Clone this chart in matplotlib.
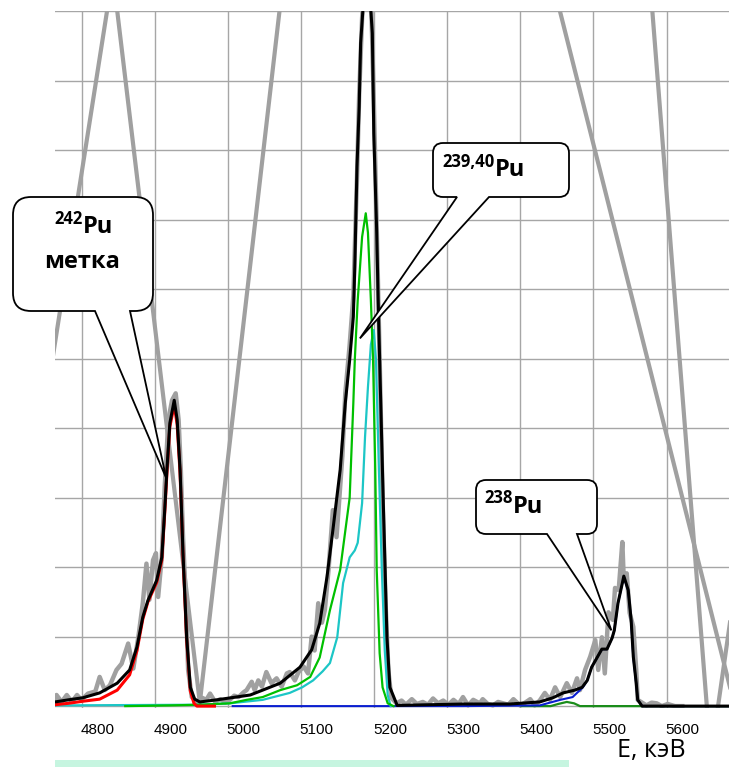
import numpy as np
import matplotlib.pyplot as plt
from matplotlib.path import Path
from matplotlib.patches import PathPatch, Rectangle
from matplotlib.transforms import IdentityTransform

W, H = 729, 767

# measured spectrum (grey), energies in keV, counts in grid units
grey_e = [4742, 4744, 4751, 4758, 4765, 4772, 4778, 4787, 4797, 4803, 4810, 4817, 4826, 4833,
          4842, 4849, 4856, 4862, 4867, 4871, 4876, 4880, 4883, 4888, 4892, 4897, 4902, 4907,
          4911, 4914, 4917, 4921, 4924, 4929, 4936, 4943, 4949, 4954, 4961, 4968, 4975, 4981,
          4987, 4993, 5000, 5004, 5011, 5015, 5020, 5025, 5031, 5038, 5045, 5052, 5059, 5063,
          5070, 5075, 5082, 5088, 5093, 5097, 5102, 5107, 5111, 5116, 5122, 5127, 5130, 5135,
          5139, 5145, 5150, 5155, 5158, 5162, 5166, 5170, 5174, 5178, 5182, 5186, 5190, 5194,
          5198, 5202, 5209, 5216, 5222, 5230, 5237, 5245, 5252, 5259, 5266, 5273, 5280, 5287,
          5294, 5300, 5307, 5314, 5323, 5327, 5334, 5341, 5348, 5355, 5362, 5369, 5378, 5385,
          5392, 5398, 5405, 5412, 5419, 5426, 5433, 5442, 5449, 5456, 5460, 5467, 5474, 5481,
          5485, 5490, 5494, 5499, 5505, 5508, 5513, 5518, 5520, 5524, 5528, 5533, 5537, 5539,
          5551, 5558, 5565, 5572, 5580, 5590, 5600]
grey_v = [0.10, 0.16, 0.06, 0.16, 0.06, 0.16, 0.09, 0.18, 0.21, 0.42, 0.23, 0.30, 0.52, 0.61,
          0.90, 0.54, 1.00, 1.48, 2.05, 1.53, 2.10, 2.20, 1.57, 2.15, 3.16, 4.12, 4.40, 4.50,
          4.12, 3.40, 2.44, 1.48, 0.52, 0.13, 0.06, 0.12, 0.09, 0.18, 0.06, 0.10, 0.05, 0.09,
          0.15, 0.13, 0.20, 0.23, 0.35, 0.23, 0.37, 0.28, 0.49, 0.33, 0.40, 0.28, 0.47, 0.49,
          0.37, 0.49, 0.57, 0.47, 1.00, 0.80, 1.48, 1.20, 1.38, 1.95, 2.82, 2.43, 2.86, 3.60,
          4.50, 5.20, 5.90, 7.60, 8.80, 9.90, 10.6, 10.7, 10.3, 8.70, 6.90, 5.00, 3.00, 1.50,
          0.50, 0.12, 0.04, 0.08, 0.02, 0.10, 0.03, 0.06, 0.02, 0.11, 0.04, 0.08, 0.02, 0.09,
          0.03, 0.13, 0.01, 0.09, 0.04, 0.10, 0.03, 0.01, 0.06, 0.04, 0.02, 0.10, 0.01, 0.05,
          0.10, 0.01, 0.08, 0.19, 0.09, 0.27, 0.13, 0.33, 0.19, 0.40, 0.23, 0.52, 0.71, 0.95,
          0.52, 0.99, 0.47, 1.35, 1.24, 1.70, 1.67, 2.36, 1.81, 1.91, 1.34, 1.14, 0.52, 0.09,
          0.01, 0.05, 0.04, 0.00, 0.03, 0.00, 0.00]

# coarse grey trace (runs far off scale)
coarse1_e = [4664, 4821, 4940, 5169.5, 5700]
coarse1_v = [0.0, 10.53, 0.05, 21.0, -1.18]
coarse2_e = [5483, 5639, 5706]
coarse2_v = [20.2, -0.73, 4.2]

# 242Pu tag fit
red_e = [4742, 4760, 4780, 4803, 4827, 4844, 4854, 4862, 4869, 4881, 4888, 4892, 4895, 4899,
         4905, 4909, 4913, 4917, 4922, 4927, 4932, 4936, 4960]
red_v = [0.02, 0.04, 0.07, 0.10, 0.23, 0.45, 0.80, 1.25, 1.50, 1.78, 2.10, 2.78, 3.35, 4.02,
         4.33, 4.05, 3.35, 2.15, 0.95, 0.22, 0.04, 0.0, 0.0]

# 239Pu fit
green_e = [4838, 4900, 4940, 4981, 5004, 5026, 5050, 5073, 5091, 5104, 5118, 5132, 5141, 5145,
           5150, 5152, 5156, 5162, 5167, 5170, 5174, 5177, 5180, 5182, 5186, 5190, 5197, 5205]
green_v = [0.0, 0.01, 0.02, 0.04, 0.09, 0.13, 0.23, 0.30, 0.42, 0.70, 1.38, 1.96, 2.68, 3.00,
           4.36, 4.98, 5.84, 6.75, 7.09, 6.81, 5.84, 4.98, 3.40, 1.96, 0.76, 0.27, 0.04, 0.0]

# 240Pu fit
cyan_e = [4742, 4940, 4981, 5026, 5063, 5080, 5095, 5108, 5118, 5128, 5136, 5145, 5152, 5156,
          5162, 5166, 5170, 5174, 5178, 5181, 5185, 5189, 5193, 5197, 5201]
cyan_v = [0.01, 0.02, 0.04, 0.09, 0.19, 0.27, 0.37, 0.50, 0.62, 0.99, 1.77, 2.14, 2.24, 2.35,
          2.92, 3.87, 4.59, 5.20, 5.41, 4.98, 3.40, 1.96, 0.80, 0.16, 0.0]

# 238Pu fit
blue_e = [4985, 5300, 5405, 5433, 5450, 5464, 5470, 5476, 5483, 5490, 5497, 5504, 5507, 5512,
          5518, 5520, 5526, 5530, 5533, 5537, 5539, 5545, 5664]
blue_v = [0.0, 0.0, 0.01, 0.09, 0.13, 0.27, 0.37, 0.56, 0.69, 0.82, 0.82, 0.98, 1.09, 1.48,
          1.77, 1.86, 1.66, 1.23, 0.70, 0.32, 0.09, 0.0, 0.0]

# small satellite component
dgreen_e = [5380, 5420, 5430, 5442, 5452, 5460, 5664]
dgreen_v = [0.0, 0.0, 0.03, 0.06, 0.04, 0.0, 0.0]

# sum of all components
black_e = [4742, 4760, 4780, 4803, 4827, 4844, 4854, 4862, 4869, 4881, 4888, 4892, 4895, 4899,
           4905, 4909, 4913, 4917, 4922, 4927, 4933, 4940, 4963, 5009, 5026, 5050, 5077, 5093,
           5104, 5114, 5122, 5132, 5139, 5145, 5150, 5152, 5155, 5158, 5160, 5163, 5169, 5174,
           5176, 5178, 5182, 5184, 5186, 5191, 5196, 5200, 5210, 5300, 5364, 5405, 5423, 5437,
           5453, 5463, 5470, 5476, 5483, 5490, 5497, 5504, 5507, 5512, 5518, 5520, 5526, 5530,
           5533, 5537, 5539, 5545, 5664]
black_v = [0.06, 0.09, 0.12, 0.19, 0.33, 0.52, 0.85, 1.28, 1.52, 1.81, 2.14, 2.82, 3.40, 4.07,
           4.40, 4.12, 3.40, 2.20, 0.99, 0.27, 0.10, 0.06, 0.09, 0.16, 0.23, 0.33, 0.56, 0.81,
           1.19, 1.86, 2.53, 3.40, 4.36, 4.98, 5.60, 6.32, 7.76, 8.62, 9.54, 10.0, 10.3, 10.0,
           9.68, 8.24, 6.81, 5.84, 4.98, 2.92, 0.99, 0.27, 0.01, 0.03, 0.03, 0.06, 0.12, 0.19,
           0.23, 0.27, 0.37, 0.56, 0.69, 0.82, 0.82, 0.98, 1.09, 1.48, 1.77, 1.87, 1.67, 1.24,
           0.71, 0.33, 0.09, 0.0, 0.0]

tick_e = [4800, 4900, 5000, 5100, 5200, 5300, 5400, 5500, 5600]
grid_e = [4778.5, 4878.5, 4978.5, 5078.5, 5178.5, 5278.5, 5378.5, 5478.5, 5578.5]

plt.rcParams['font.family'] = ['Open Sans', 'DejaVu Sans']

fig = plt.figure(figsize=(W / 100, H / 100), dpi=100)
ax = fig.add_axes([55 / W, (H - 707.5) / H, 1 - 55 / W, (707.5 - 11) / H])
ax.set_xlim(4741.9, 5663.9)
ax.set_ylim(-0.02, 10)

ax.set_xticks(tick_e)
ax.set_xticklabels([str(t) for t in tick_e], family='Liberation Sans', fontsize=11)
ax.set_xticks(grid_e, minor=True)
ax.set_yticks(range(11))
ax.set_yticklabels([])
ax.tick_params(which='both', length=0)
ax.tick_params(axis='x', pad=11)
ax.grid(which='minor', axis='x', color='#A6A6A6', lw=1.0)
ax.grid(which='major', axis='y', color='#A6A6A6', lw=1.0)
ax.grid(which='major', axis='x', visible=False)
for s in ax.spines.values():
  s.set_visible(False)

ax.plot(coarse1_e, coarse1_v, color='#A0A0A0', lw=3.0, zorder=2)
ax.plot(coarse2_e, coarse2_v, color='#A0A0A0', lw=3.0, zorder=2)
ax.plot(grey_e, grey_v, color='#A0A0A0', lw=3.2, zorder=2)
ax.plot(dgreen_e, dgreen_v, color='#1A8C1A', lw=1.6, zorder=3)
ax.plot(blue_e, blue_v, color='#0A1ED0', lw=1.5, zorder=4)
ax.plot(cyan_e, cyan_v, color='#1CC6C6', lw=1.6, zorder=4)
ax.plot(green_e, green_v, color='#00C000', lw=1.6, zorder=5)
ax.plot(red_e, red_v, color='#FF0000', lw=2.2, zorder=5)
ax.plot(black_e, black_v, color='black', lw=2.2, zorder=6)


def callout(left, top, right, bottom, r, b1, b2, tip):
  # rounded box with a wedge pointing at tip (data coords); box given in image pixels
  tx, ty = ax.transData.transform(tip)
  x0, x1 = left, right
  y0, y1 = H - bottom, H - top
  verts = [(x0 + r, y0), (b1, y0), (tx, ty), (b2, y0), (x1 - r, y0),
           (x1, y0), (x1, y0 + r), (x1, y1 - r), (x1, y1), (x1 - r, y1),
           (x0 + r, y1), (x0, y1), (x0, y1 - r), (x0, y0 + r), (x0, y0), (x0 + r, y0),
           (x0 + r, y0)]
  codes = [Path.MOVETO, Path.LINETO, Path.LINETO, Path.LINETO, Path.LINETO,
           Path.CURVE3, Path.CURVE3, Path.LINETO, Path.CURVE3, Path.CURVE3,
           Path.LINETO, Path.CURVE3, Path.CURVE3, Path.LINETO, Path.CURVE3, Path.CURVE3,
           Path.CLOSEPOLY]
  fig.patches.append(PathPatch(Path(verts, codes), facecolor='white', edgecolor='black',
                               lw=1.3, transform=IdentityTransform(), figure=fig, zorder=10))


def label(x, base_sup, base_main, sup, main):
  fig.text(x, H - base_sup, sup, ha='right', va='baseline', fontsize=12, fontweight='bold',
           transform=IdentityTransform(), zorder=11)
  fig.text(x, H - base_main, main, ha='left', va='baseline', fontsize=17, fontweight='bold',
           transform=IdentityTransform(), zorder=11)


callout(13, 197, 153, 311, 18, 95, 130, (4894, 3.28))
label(83, 224, 233, '242', 'Pu')
fig.text(82, H - 268, 'метка', ha='center', va='baseline', fontsize=17, fontweight='bold',
         transform=IdentityTransform(), zorder=11)

callout(433, 143, 569, 197, 10, 457, 489, (5159, 5.29))
label(495, 167, 176, '239,40', 'Pu')

callout(476, 480, 597, 534, 10, 547, 577, (5503, 1.09))
label(513, 503, 513, '238', 'Pu')

fig.text(651, H - 751, 'E, кэВ', ha='center', va='center', fontsize=18,
         transform=IdentityTransform())
fig.patches.append(Rectangle((55, 0), 514, 7, facecolor='#C6F5E0', edgecolor='none',
                             transform=IdentityTransform(), figure=fig))

fig.savefig('out.png', dpi=100)
